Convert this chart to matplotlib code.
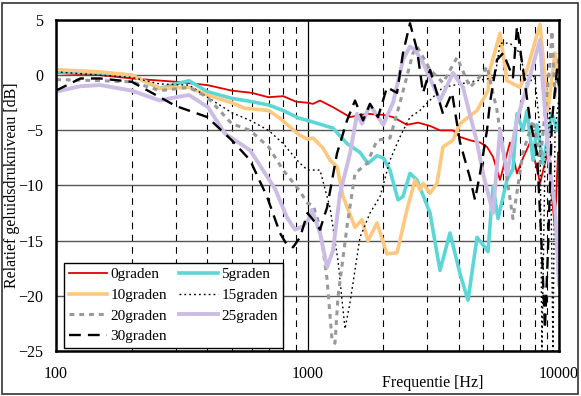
import matplotlib
matplotlib.use("Agg")
import matplotlib.pyplot as plt
from matplotlib.patches import Rectangle
from matplotlib.ticker import FixedLocator, NullFormatter

plt.rcParams['font.family'] = ['Liberation Serif', 'DejaVu Serif']

# ---------------- data ----------------
f_0 = [100, 150, 200, 300, 400, 500, 600, 700, 800, 900, 1000, 1052, 1121, 1263, 1476, 1724,
       2000, 2188, 2486, 2751, 3071, 3363, 3789, 4041, 4426, 4853, 5172, 5465, 5827, 6383,
       6808, 7194, 7672, 8179, 8406, 9000, 9376, 9640, 9910, 10000]
db_0 = [0.2, 0.0, -0.3, -0.6, -0.9, -1.4, -1.6, -2.0, -1.9, -2.4, -2.5, -2.6, -2.3, -2.9, -3.8, -3.5,
        -3.6, -3.8, -4.5, -4.3, -4.6, -5.0, -5.0, -5.6, -5.9, -6.1, -6.5, -7.4, -9.5, -6.1,
        -8.9, -7.5, -6.1, -8.5, -9.8, -7.0, -11.0, -14.0, -7.0, -7.5]

f_5 = [100, 150, 200, 259, 300, 338, 400, 500, 600, 700, 800, 925, 1000, 1263, 1436, 1617,
       1740, 1890, 2000, 2128, 2290, 2397, 2556, 2726, 3071, 3363, 3687, 4041, 4347, 4721,
       5078, 5219, 5465, 5722, 6210, 6561, 6808, 7194, 7464, 7884, 8179, 8640, 9036, 9376,
       9820, 10000]
db_5 = [0.3, 0.2, 0.0, -1.2, -0.8, -0.5, -1.5, -2.1, -2.4, -2.7, -3.2, -3.9, -4.1, -4.8, -6.2, -7.0,
        -8.0, -7.3, -7.5, -8.6, -11.3, -11.0, -8.9, -9.5, -12.5, -17.7, -14.3, -18.0, -20.4, -14.7,
        -15.6, -16.0, -10.1, -13.0, -9.5, -8.5, -3.5, -5.0, -3.2, -7.7, -4.5, -8.0, -5.5, -3.5,
        -5.0, -4.0]

f_10 = [100, 150, 200, 259, 338, 400, 500, 564, 700, 777, 925, 1000, 1052, 1152, 1229, 1310,
        1384, 1545, 1647, 1740, 1890, 2070, 2270, 2486, 2676, 2802, 2880, 3071, 3273, 3457,
        3789, 4041, 4721, 5219, 5316, 5827, 6210, 6998, 7464, 8406, 9036, 9640, 10000]
db_10 = [0.5, 0.3, 0.0, -1.2, -1.1, -1.8, -2.5, -3.0, -3.2, -3.9, -5.4, -5.8, -5.7, -6.6, -7.7, -8.3,
         -11.0, -13.8, -13.1, -15.0, -13.4, -16.2, -16.1, -12.2, -9.5, -10.4, -9.8, -10.7, -9.8, -6.5,
         -5.9, -4.4, -3.2, -1.4, 0.5, 3.8, -0.5, -1.1, 0.5, 4.6, -3.2, 2.0, -1.0]

f_15 = [100, 150, 200, 259, 338, 400, 500, 591, 700, 800, 925, 1000, 1121, 1229, 1322, 1410,
        1476, 1617, 1772, 1943, 2128, 2332, 2556, 2802, 2880, 3457, 4721, 5566, 5827, 6383,
        6998, 7464, 8000, 8406, 8553, 8791, 9204, 9464, 9640, 10000]
db_15 = [0.3, 0.0, -0.2, -0.8, -0.9, -2.0, -3.4, -4.1, -5.0, -6.2, -7.9, -8.6, -8.6, -12.0, -16.8, -23.0,
         -20.6, -14.7, -12.5, -11.0, -7.7, -5.6, -3.8, -3.2, -2.9, -1.1, -0.5, -0.2, 2.9, 2.9,
         2.0, -1.0, 0.0, -5.0, -25.0, -8.0, -3.0, -25.0, -5.0, -2.0]

f_20 = [100, 150, 200, 259, 338, 400, 500, 591, 700, 800, 925, 1000, 1052, 1121, 1196, 1252,
        1286, 1322, 1436, 1545, 1724, 1890, 2128, 2332, 2627, 2726, 3071, 3457, 3931, 4426,
        5000, 5172, 5669, 6561, 7194, 7884, 8406, 9204, 9376, 9640, 10000]
db_20 = [-0.4, -0.5, -0.6, -1.4, -1.1, -2.0, -4.4, -5.0, -6.5, -8.6, -10.4, -11.6, -11.8, -13.7, -18.5, -24.0,
         -24.3, -20.1, -13.7, -8.9, -8.0, -5.9, -5.7, -2.5, 2.0, 2.6, 0.5, -0.7, 1.6, -1.1,
         0.2, 0.8, -3.2, -13.0, -7.0, -4.1, -8.0, 1.1, 4.0, -2.0, 2.0]

f_25 = [100, 125, 150, 200, 259, 284, 338, 402, 470, 591, 665, 743, 829, 892, 960, 1023,
        1042, 1121, 1196, 1263, 1347, 1476, 1574, 1647, 1772, 2000, 2188, 2397, 2556, 2676,
        2880, 3363, 3789, 4153, 4721, 5000, 5465, 5827, 6210, 6808, 7464, 8406, 8640, 9204,
        9640, 10000]
db_25 = [-1.5, -1.0, -0.9, -1.4, -2.3, -2.1, -1.8, -2.9, -5.3, -6.8, -8.6, -10.3, -12.9, -14.0, -13.7, -12.9,
         -12.2, -14.3, -17.4, -15.9, -10.7, -7.1, -3.5, -4.4, -2.7, -4.5, -2.5, 1.4, 2.6, 2.3,
         1.1, -2.3, 0.2, -1.1, -6.1, -9.0, -12.5, -5.0, -9.0, -4.0, -1.0, 3.2, -1.1, -8.6,
         -12.0, -19.0]

f_30 = [100, 125, 150, 200, 259, 300, 400, 500, 591, 690, 777, 829, 876, 934, 1000, 1052,
        1121, 1196, 1310, 1436, 1545, 1663, 1772, 1907, 2070, 2270, 2397, 2556, 2726, 2880,
        3071, 3457, 3755, 4041, 4426, 4634, 4853, 5172, 5316, 5669, 6000, 6561, 6808, 7194,
        7672, 8179, 8553, 8791, 9036, 9376, 9820, 10000]
db_30 = [-1.4, -0.3, -0.3, -0.6, -2.0, -2.8, -3.8, -5.9, -7.7, -11.0, -14.3, -15.4, -15.6, -14.7, -12.5, -13.1,
         -14.0, -12.0, -7.1, -4.1, -2.3, -4.1, -2.6, -3.8, -1.1, -1.6, 2.0, 4.7, 2.3, -1.6,
         0.5, -3.5, -1.6, -6.1, -9.3, -11.3, -8.9, -5.0, -2.5, 1.4, 2.0, -0.2, 4.4, 0.5,
         -4.1, -7.1, -16.0, -23.0, -16.0, -4.1, 0.5, -1.0]

labels = ['0graden', '5graden', '10graden', '15graden', '20graden', '25graden', '30graden']
x_ticks = [100, 1000, 10000]
x_ticklabels = ['100', '1000', '10000']
y_ticks = [-25, -20, -15, -10, -5, 0, 5]

# ---------------- figure ----------------
fig = plt.figure(figsize=(5.81, 3.96), dpi=100)
ax = fig.add_axes([56 / 581, 45 / 396, 503 / 581, 331 / 396])

styles = [
    dict(color='#e00000', lw=1.3, ls='-'),
    dict(color='#5fd6d6', lw=2.6, ls='-'),
    dict(color='#ffc880', lw=2.6, ls='-'),
    dict(color='black', lw=1.0, ls=(0, (1.3, 2.2))),
    dict(color='#999999', lw=2.2, ls=(0, (1.6, 1.6))),
    dict(color='#cbbde3', lw=2.8, ls='-'),
    dict(color='black', lw=1.7, ls=(0, (5.0, 3.0))),
]
series = [(f_0, db_0), (f_5, db_5), (f_10, db_10), (f_15, db_15),
          (f_20, db_20), (f_25, db_25), (f_30, db_30)]

handles = []
for (fx, dy), st, lab in zip(series, styles, labels):
    h, = ax.plot(fx, dy, label=lab, **st)
    handles.append(h)

ax.set_xscale('log')
ax.set_xlim(100, 10000)
ax.set_ylim(-25, 5)
ax.set_xticks(x_ticks)
ax.set_xticklabels(x_ticklabels)
minor = [m * d for d in (100, 1000) for m in range(2, 10)]
ax.xaxis.set_minor_locator(FixedLocator(minor))
ax.xaxis.set_minor_formatter(NullFormatter())
ax.set_yticks(y_ticks)

ax.grid(True, axis='y', which='major', color='#555555', lw=1.0, ls='-')
ax.grid(True, axis='x', which='major', color='black', lw=0.9, ls='-')
ax.grid(True, axis='x', which='minor', color='black', lw=0.8, ls=(0, (6, 5)))
ax.set_axisbelow(True)

ax.tick_params(axis='both', which='both', length=0, labelsize=11.5)
ax.tick_params(axis='x', pad=11)
ax.tick_params(axis='y', pad=9)
for sp in ax.spines.values():
    sp.set_linewidth(1.8)
    sp.set_color('black')

ax.set_ylabel('Relatief geluidsdrukniveau [dB]', fontsize=11.5)
ax.yaxis.set_label_coords(-0.071, 0.5)
ax.set_xlabel('Frequentie [Hz]', fontsize=11.5)
ax.xaxis.set_label_coords(0.75, -0.072)

order = [0, 2, 4, 6, 1, 3, 5]
leg = ax.legend([handles[i] for i in order], [labels[i] for i in order],
                ncol=2, loc='lower left', bbox_to_anchor=(0.016, 0.01),
                fontsize=11, frameon=True, fancybox=False, framealpha=1,
                edgecolor='black', handlelength=2.5, handletextpad=0.25,
                columnspacing=0.8, labelspacing=0.45, borderpad=0.3,
                borderaxespad=0.0)
leg.get_frame().set_linewidth(1.0)

fig.patches.append(Rectangle((2 / 581, 2 / 396), 576 / 581, 391 / 396,
                             transform=fig.transFigure, fill=False,
                             edgecolor='#333333', lw=1.2))

fig.savefig('out.png', dpi=100)
